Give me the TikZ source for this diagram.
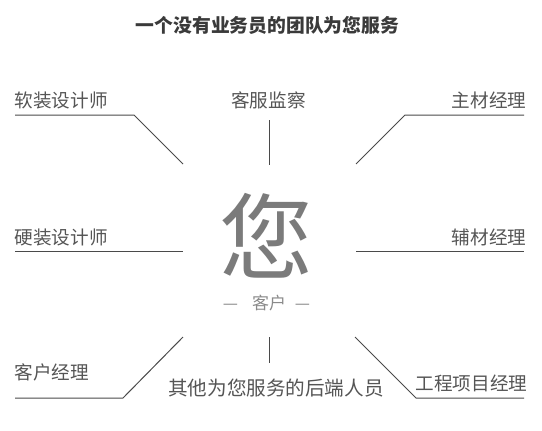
\documentclass[tikz,border=0pt]{standalone}
\usepackage{fontspec}
\newfontfamily\cjk{Noto Sans CJK SC}
\definecolor{linec}{HTML}{4A4A4A}
\definecolor{textc}{HTML}{555555}
\definecolor{titlec}{HTML}{3A3A3A}
\definecolor{bigc}{HTML}{7B7B7B}
\definecolor{subc}{HTML}{8A8A8A}
\tikzset{
  lbl/.style={inner sep=0pt, text=textc, font=\cjk\fontsize{18.6}{18.6}\selectfont},
  conn/.style={draw=linec, line width=1pt},
  sub/.style={inner sep=0pt, anchor=base, text=subc, font=\cjk\fontsize{17}{17}\selectfont},
}
\begin{document}
\begin{tikzpicture}[x=1pt,y=-1pt]
\useasboundingbox (0,0) rectangle (542,431);
% title
\node[inner sep=0pt, anchor=base, text=titlec, font=\cjk\bfseries\fontsize{18.8}{18.8}\selectfont] (title) at (267.5,32) {一个没有业务员的团队为您服务};
% center
\node[inner sep=0pt, anchor=base, text=bigc, font=\cjk\fontsize{94}{94}\selectfont] (you) at (266,272) {您};
\node[sub] (dl) at (230.5,309.5) {—};
\node[sub] (client) at (269,309.5) {客户};
\node[sub] (dr) at (302.5,309.5) {—};
% labels
\node[lbl, anchor=base west] (rzsj) at (14.5,107) {软装设计师};
\node[lbl, anchor=base] (kfjc) at (268.5,107) {客服监察};
\node[lbl, anchor=base east] (zcjl) at (526.5,107) {主材经理};
\node[lbl, anchor=base west] (yzsj) at (14.5,244) {硬装设计师};
\node[lbl, anchor=base east] (fcjl) at (526.5,244) {辅材经理};
\node[lbl, anchor=base west] (khjl) at (14.5,379) {客户经理};
\node[lbl, anchor=base east] (gcxm) at (527.5,390) {工程项目经理};
\node[lbl, anchor=base, font=\cjk\fontsize{19.6}{19.6}\selectfont] (qt) at (276,395) {其他为您服务的后端人员};
% connector points
\coordinate (a1) at (15,115); \coordinate (a2) at (134,115); \coordinate (a3) at (183,164);
\coordinate (b1) at (269,120); \coordinate (b2) at (269,165);
\coordinate (c1) at (356,164); \coordinate (c2) at (405,115); \coordinate (c3) at (524,115);
\coordinate (d1) at (15,251); \coordinate (d2) at (183,251);
\coordinate (e1) at (356,251); \coordinate (e2) at (524,251);
\coordinate (f1) at (15,398); \coordinate (f2) at (123,398); \coordinate (f3) at (183,337);
\coordinate (g1) at (269,337); \coordinate (g2) at (269,363);
\coordinate (h1) at (355,337); \coordinate (h2) at (416,398); \coordinate (h3) at (524,398);
\draw[conn] (a1) -- (a2) -- (a3);
\draw[conn] (b1) -- (b2);
\draw[conn] (c1) -- (c2) -- (c3);
\draw[conn] (d1) -- (d2);
\draw[conn] (e1) -- (e2);
\draw[conn] (f1) -- (f2) -- (f3);
\draw[conn] (g1) -- (g2);
\draw[conn] (h1) -- (h2) -- (h3);
\end{tikzpicture}
\end{document}
